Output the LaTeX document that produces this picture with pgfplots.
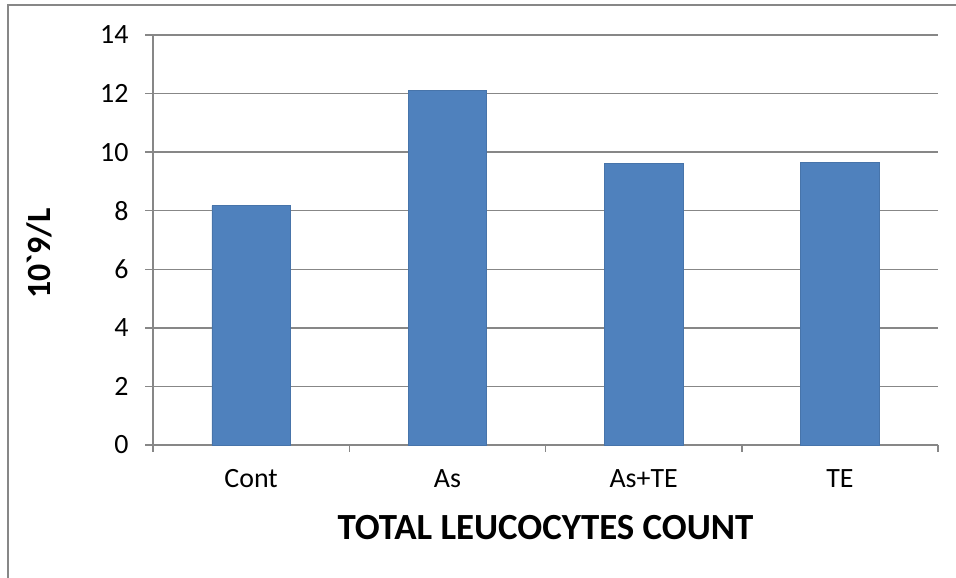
\documentclass[border=0pt]{standalone}
\usepackage{fontspec}
\setmainfont{Carlito}
\usepackage{pgfplots}
\pgfplotsset{compat=1.18}
\definecolor{barblue}{HTML}{4F81BD}
\definecolor{gridgray}{HTML}{878787}
\begin{document}
\begin{tikzpicture}[x=1bp,y=1bp]
\useasboundingbox (0,0) rectangle (956,578);
\draw[gridgray, line width=1.5bp] (8,0) -- (8,573) -- (956,573);
\begin{axis}[
  at={(153bp,133bp)}, anchor=south west,
  width=785bp, height=410bp, scale only axis,
  xmin=-0.5, xmax=3.5, ymin=0, ymax=14,
  ytick={0,2,...,14},
  xtick={0,1,2,3},
  xticklabels={Cont,As,As+TE,TE},
  minor xtick={-0.5,0.5,1.5,2.5,3.5},
  major x tick style={draw=none},
  tick align=outside,
  major tick length=8bp, minor tick length=7bp,
  tick style={gridgray, line width=1.5bp},
  ymajorgrids, grid style={gridgray, line width=1.5bp},
  axis line style={gridgray, line width=1.5bp},
  axis x line*=bottom, axis y line*=left,
  /pgf/number format/assume math mode=true,
  ticklabel style={font=\fontsize{28}{33}\selectfont, text=black},
  yticklabel style={xshift=-13bp},
  xticklabel style={yshift=-13bp},
  xlabel={TOTAL LEUCOCYTES COUNT},
  xlabel style={font=\bfseries\fontsize{37}{44}\selectfont, at={(axis description cs:0.5,-0.2317)}, anchor=base},
  ylabel={10\textasciigrave 9/L},
  ylabel style={font=\bfseries\fontsize{34}{40}\selectfont, at={(axis description cs:-0.1445,0.467)}, anchor=center},
  clip=false,
]
\addplot[ybar, bar width=0.4, fill=barblue, draw=barblue!90!black, line width=0.5bp] coordinates {(0,8.17) (1,12.1) (2,9.61) (3,9.65)};
\end{axis}
\end{tikzpicture}
\end{document}
